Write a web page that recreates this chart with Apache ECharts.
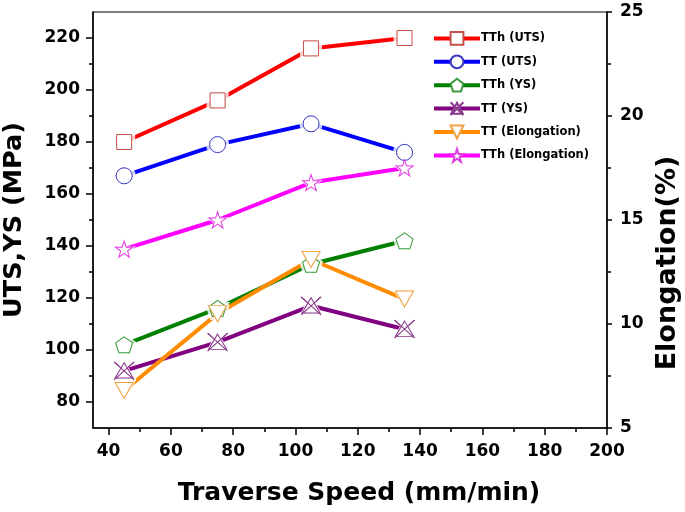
<!DOCTYPE html>
<html>
<head>
<meta charset="utf-8">
<script src="https://cdn.jsdelivr.net/npm/echarts@6/dist/echarts.min.js"></script>
<style>html,body{margin:0;padding:0;background:#fff}#c{width:685px;height:512px}</style>
</head>
<body>
<div id="c"></div>
<script>
const speeds = [45, 75, 105, 135];
const tthUTS = [180, 196, 216, 220];
const ttUTS = [167, 179, 187, 176];
const tthYS = [102, 116, 133, 142];
const ttYS = [92, 103, 117, 108];
const ttElong = [6.8, 10.5, 13.1, 11.2];
const tthElong = [13.6, 15.0, 16.8, 17.5];

const xMajor = [40, 60, 80, 100, 120, 140, 160, 180, 200];
const xMinor = [50, 70, 90, 110, 130, 150, 170, 190];
const yLeftMajor = [80, 100, 120, 140, 160, 180, 200, 220];
const yLeftMinor = [90, 110, 130, 150, 170, 190, 210];
const yRightMajor = [5, 10, 15, 20, 25];
const yRightMinor = [7.5, 12.5, 17.5, 22.5];

const names = ['TTh (UTS)', 'TT (UTS)', 'TTh (YS)', 'TT (YS)', 'TT (Elongation)', 'TTh (Elongation)'];

const FONT = 'DejaVu Sans';
const SYM = {
  square: 'rect',
  circle: 'circle',
  pentagon: 'path://M50,0 L97.6,34.5 L79.4,90.5 L20.6,90.5 L2.4,34.5 Z',
  xtri: 'path://M50,5 L95,90 L5,90 Z M0,0 L100,100 M100,0 L0,100',
  down: 'path://M0,0 L100,0 L50,90 Z',
  star: 'path://M50,0 L61.2,34.5 L97.6,34.5 L68.8,55.9 L79.4,90.5 L50,69.1 L20.6,90.5 L31.2,55.9 L2.4,34.5 L38.8,34.5 Z'
};

const cfg = [
  {name: names[0], data: tthUTS, axis: 0, line: '#ff0000', mark: '#c8504a', sym: SYM.square, size: [15, 15]},
  {name: names[1], data: ttUTS, axis: 0, line: '#0000ff', mark: '#3a3ac0', sym: SYM.circle, size: [16, 16]},
  {name: names[2], data: tthYS, axis: 0, line: '#008000', mark: '#3c9a3c', sym: SYM.pentagon, size: [17, 16]},
  {name: names[3], data: ttYS, axis: 0, line: '#800080', mark: '#8a3a8a', sym: SYM.xtri, size: [20, 18]},
  {name: names[4], data: ttElong, axis: 1, line: '#ff8c00', mark: '#f0a040', sym: SYM.down, size: [18, 16]},
  {name: names[5], data: tthElong, axis: 1, line: '#ff00ff', mark: '#e040e0', sym: SYM.star, size: [17, 16]}
];

const series = [];
cfg.forEach((c, i) => {
  const pts = speeds.map((x, k) => [x, c.data[k]]);
  series.push({
    name: c.name, type: 'line', yAxisIndex: c.axis, data: pts, z: 2,
    symbol: c.sym, symbolSize: c.size,
    lineStyle: {color: c.line, width: 4},
    itemStyle: {color: '#fff', borderColor: c.mark, borderWidth: 1},
    emphasis: {disabled: true}
  });
  series.push({
    name: '_halo' + i, type: 'scatter', yAxisIndex: c.axis, data: pts, z: 3, silent: true,
    symbol: c.sym, symbolSize: [c.size[0] + 7, c.size[1] + 7],
    itemStyle: {color: '#fff', borderWidth: 0}
  });
  series.push({
    name: '_mark' + i, type: 'scatter', yAxisIndex: c.axis, data: pts, z: 4, silent: true,
    symbol: c.sym, symbolSize: c.size,
    itemStyle: {color: '#fff', borderColor: c.mark, borderWidth: 1, opacity: 1}
  });
});

const lbl = {fontFamily: FONT, fontWeight: 'bold', fontSize: 17, color: '#000'};
const axLine = {show: true, lineStyle: {color: '#000', width: 1.5}};

const chart = echarts.init(document.getElementById('c'), null, {renderer: 'canvas'});
chart.setOption({
  animation: false,
  backgroundColor: '#fff',
  grid: {left: 93, right: 78, top: 12, bottom: 84, outerBoundsMode: 'none', containLabel: false, show: true, borderColor: '#000', borderWidth: 1, backgroundColor: 'transparent'},
  legend: {
    data: names, orient: 'vertical', left: 427, top: 26,
    itemWidth: 46, itemHeight: 16, itemGap: 8.6,
    lineStyle: {width: 4},
    textStyle: {fontFamily: FONT, fontWeight: 'bold', fontSize: 11.5, color: '#000', padding: [0, 0, 0, -4]},
    selectedMode: false
  },
  xAxis: [
    {
      type: 'value', min: 35, max: 200, position: 'bottom',
      name: 'Traverse Speed (mm/min)', nameLocation: 'middle', nameGap: 53,
      nameTextStyle: {fontFamily: FONT, fontWeight: 'bold', fontSize: 25, color: '#000', padding: [0, 0, 0, 18]},
      axisLine: axLine,
      axisTick: {show: true, inside: false, length: 7, customValues: xMajor, lineStyle: {color: '#000', width: 1.5}},
      axisLabel: Object.assign({margin: 15, customValues: xMajor}, lbl),
      splitLine: {show: false}
    },
    {
      type: 'value', min: 35, max: 200, position: 'bottom',
      axisLine: {show: false},
      axisTick: {show: true, inside: false, length: 4, customValues: xMinor, lineStyle: {color: '#000', width: 1.5}},
      axisLabel: {show: false}, splitLine: {show: false}
    }
  ],
  yAxis: [
    {
      type: 'value', min: 70, max: 230, position: 'left',
      name: 'UTS,YS (MPa)', nameLocation: 'middle', nameGap: 66, nameRotate: 90,
      nameTextStyle: {fontFamily: FONT, fontWeight: 'bold', fontSize: 25.5, color: '#000'},
      axisLine: axLine,
      axisTick: {show: true, inside: false, length: 7, customValues: yLeftMajor, lineStyle: {color: '#000', width: 1.5}},
      axisLabel: Object.assign({margin: 13, customValues: yLeftMajor}, lbl),
      splitLine: {show: false}
    },
    {
      type: 'value', min: 5, max: 25, position: 'right',
      name: 'Elongation(%)', nameLocation: 'middle', nameGap: 46, nameRotate: 90,
      nameTextStyle: {fontFamily: FONT, fontWeight: 'bold', fontSize: 27, color: '#000', padding: [0, 86, 0, 0]},
      axisLine: axLine,
      axisTick: {show: true, inside: false, length: 5, customValues: yRightMajor, lineStyle: {color: '#000', width: 1.5}},
      axisLabel: Object.assign({margin: 13, customValues: yRightMajor}, lbl),
      splitLine: {show: false}
    },
    {
      type: 'value', min: 70, max: 230, position: 'left',
      axisLine: {show: false},
      axisTick: {show: true, inside: false, length: 4, customValues: yLeftMinor, lineStyle: {color: '#000', width: 1.5}},
      axisLabel: {show: false}, splitLine: {show: false}
    },
    {
      type: 'value', min: 5, max: 25, position: 'right',
      axisLine: {show: false},
      axisTick: {show: true, inside: false, length: 4, customValues: yRightMinor, lineStyle: {color: '#000', width: 1.5}},
      axisLabel: {show: false}, splitLine: {show: false}
    }
  ],
  series: series
});
</script>
</body>
</html>
